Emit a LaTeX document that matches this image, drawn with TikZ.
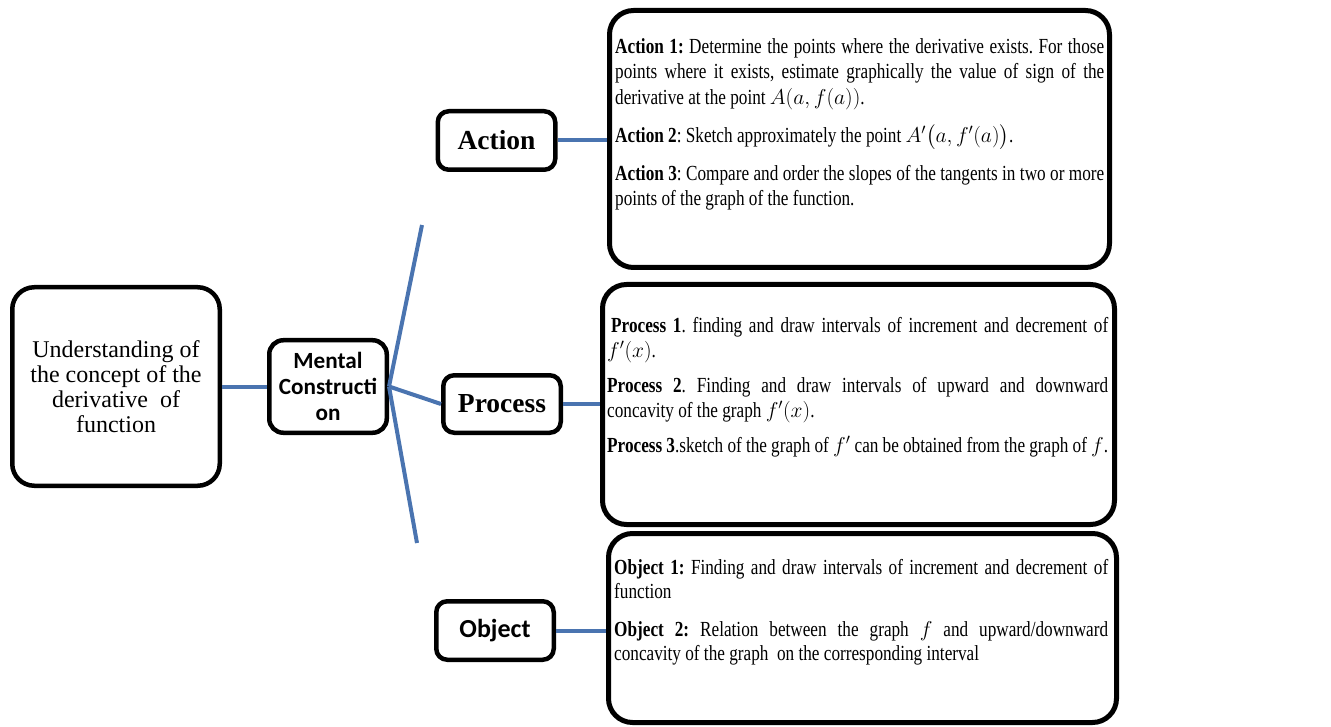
\documentclass[tikz,border=0pt]{standalone}
\usepackage{fix-cm}
\usepackage{amsmath}
\usepackage{fontspec}
\setmainfont{Liberation Serif}
\newfontfamily\condserif[FakeStretch=0.8]{Liberation Serif}
\newfontfamily\labelsans{Carlito}
\definecolor{linkblue}{RGB}{74,116,176}
\frenchspacing

\begin{document}
\begin{tikzpicture}[x=1pt,y=-1pt,
  link/.style={draw=linkblue, line width=4pt},
  smallbox/.style={draw=black, line width=4.5pt, rounded corners=11pt,
    minimum width=117.5pt, inner sep=0pt, align=center},
  bigbox/.style={draw=black, line width=5pt, rounded corners=24pt, inner sep=0pt},
  serifhead/.style={font=\bfseries\fontsize{27.5}{30}\selectfont},
  sanshead/.style={font=\labelsans\bfseries\fontsize{26}{28}\selectfont},
  bodytext/.style={anchor=north west, inner sep=0pt, align=justify}
]
\useasboundingbox (0,0) rectangle (1331,727);

% concept box on the left
\node[smallbox, minimum width=207.5pt, minimum height=198.5pt, rounded corners=22pt,
      font=\fontsize{24}{25}\selectfont] (und) at (116,386.5)
  {Understanding of\\the concept of the\\derivative\ \ of\\function};

% hub box
\node[smallbox, minimum height=92.5pt, rounded corners=14pt,
      font=\labelsans\bfseries\fontsize{23.2}{26}\selectfont] (mc) at (328,386.5)
  {Mental\\Constructi\\on};

% three stage labels
\node[smallbox, minimum height=58.5pt, serifhead] (action) at (496.5,140.5) {Action};
\node[smallbox, minimum height=57.5pt, serifhead] (process) at (502,404) {Process};
\node[smallbox, minimum height=58.5pt, sanshead] (object) at (495,630.5) {Object};

% description frames
\node[bigbox, minimum width=500pt, minimum height=257pt] (actionbox) at (859.5,139) {};
\node[bigbox, minimum width=512pt, minimum height=240pt] (processbox) at (858.5,404.5) {};
\node[bigbox, minimum width=508pt, minimum height=189pt] (objectbox) at (862.5,628) {};

% descriptions
\node[bodytext, text width=489pt, font=\condserif\fontsize{21.5}{25.5}\selectfont] (atext) at (615,36)
  {\setlength{\parskip}{12.5pt}\setlength{\parindent}{0pt}%
   \rule{0pt}{17pt}\textbf{Action 1:} Determine the points where the derivative exists. For those\linebreak
   points where it exists, estimate graphically the value of sign of the\linebreak
   derivative at the point $A(a,f(a))$.\par
   \textbf{Action 2}: Sketch approximately the point $A'\big(a,f'(a)\big)$.\par
   \textbf{Action 3}: Compare and order the slopes of the tangents in two or more\linebreak
   points of the graph of the function.};

\node[bodytext, text width=501pt, font=\condserif\fontsize{21.5}{25}\selectfont] (ptext) at (607,315)
  {\setlength{\parskip}{10pt}\setlength{\parindent}{0pt}%
   \rule{0pt}{17pt}\hspace{4pt}\textbf{Process 1}. finding and draw intervals of increment and decrement of\linebreak
   $f'(x)$.\par
   \textbf{Process 2}. Finding and draw intervals of upward and downward\linebreak
   concavity of the graph $f'(x)$.\par
   \textbf{Process 3}.sketch of the graph of $f'$ can be obtained from the graph of $f$.};

\node[bodytext, text width=494pt, font=\condserif\fontsize{21.5}{24}\selectfont] (otext) at (614,557)
  {\setlength{\parskip}{14pt}\setlength{\parindent}{0pt}%
   \rule{0pt}{17pt}\textbf{Object 1:} Finding and draw intervals of increment and decrement of\linebreak
   function\par
   \textbf{Object 2:} Relation between the graph $f$ and upward/downward\linebreak
   concavity of the graph\ \ on the corresponding interval};

% connectors
\coordinate (hub) at (mc.east);
\coordinate (topend) at (422,225);
\coordinate (botend) at (417,543);
\draw[link] (und.east) -- (mc.west);
\draw[link] (hub) -- (topend);
\draw[link] (hub) -- (botend);
\draw[link] (hub) -- (process.west);
\draw[link] (action.east) -- (action.east -| actionbox.west);
\draw[link] (process.east) -- (process.east -| processbox.west);
\draw[link] (object.east) -- (object.east -| objectbox.west);
\end{tikzpicture}
\end{document}
